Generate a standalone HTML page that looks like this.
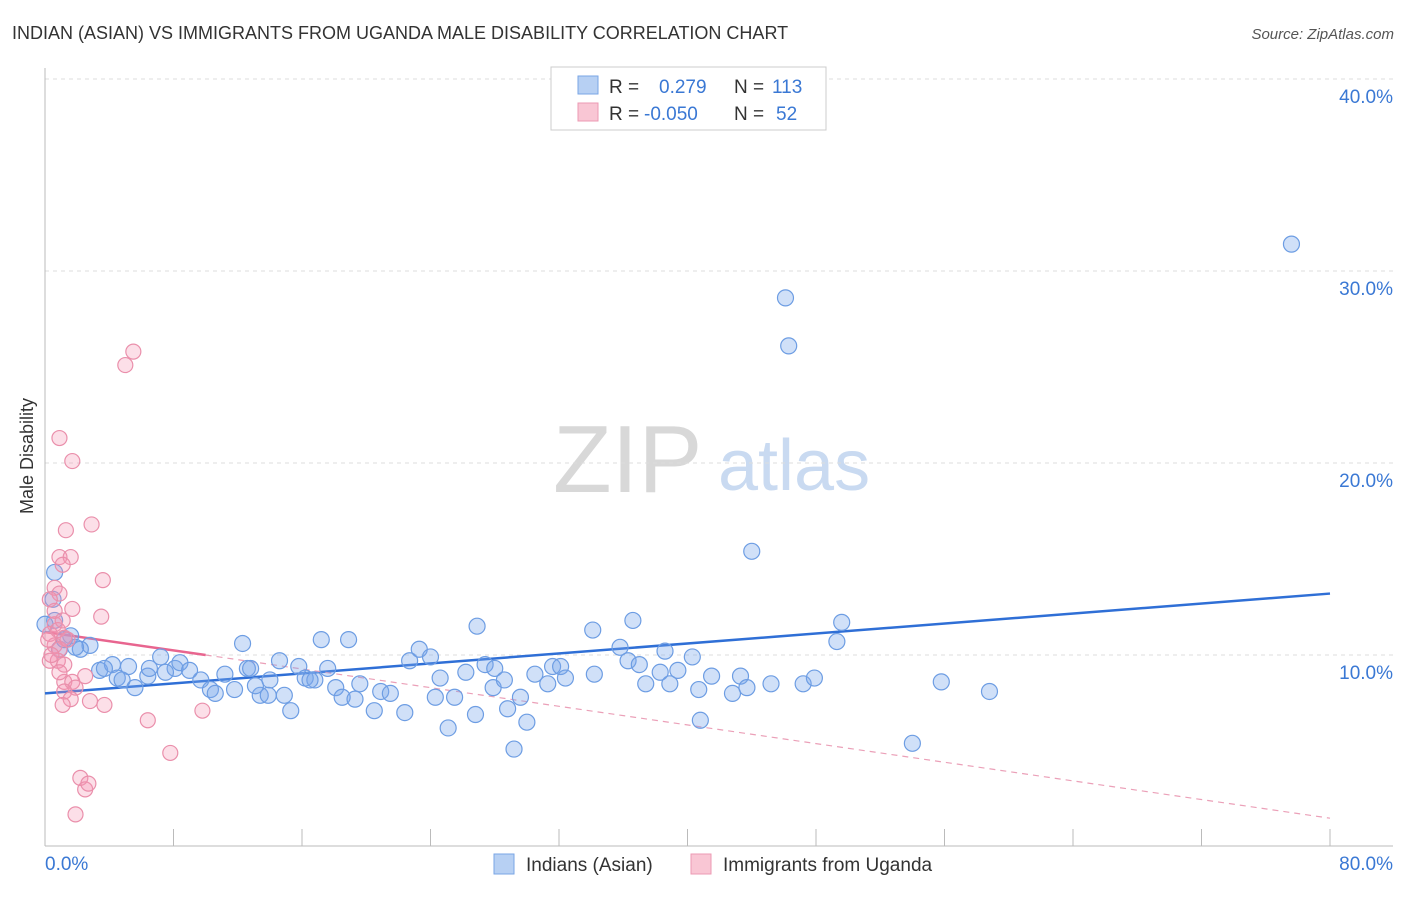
<!DOCTYPE html>
<html><head><meta charset="utf-8">
<style>
body{margin:0;background:#fff;font-family:"Liberation Sans",sans-serif;}
svg text{font-family:"Liberation Sans",sans-serif;}
</style></head>
<body>
<svg id="chart" width="1406" height="892" xmlns="http://www.w3.org/2000/svg">
<text x="12" y="39" font-size="18" fill="#333">INDIAN (ASIAN) VS IMMIGRANTS FROM UGANDA MALE DISABILITY CORRELATION CHART</text>
<text x="1394" y="39" font-size="15" fill="#555" text-anchor="end" font-style="italic">Source: ZipAtlas.com</text>
<g>
<text x="553" y="492" font-size="96" fill="#d8d8d8" font-family="Liberation Serif,serif">ZIP</text>
<text x="718" y="490" font-size="72" fill="#c9daf1">atlas</text>
</g>
<g id="grid"></g>
<g id="axes"></g>
<g id="trend"></g>
<g id="points"></g>
<text transform="translate(33,456) rotate(-90)" font-size="18" fill="#333" text-anchor="middle">Male Disability</text>
<g>
<rect x="551" y="67" width="275" height="63" fill="#fff" stroke="#ccc"/>
<rect x="578" y="76" width="20" height="18" fill="#b7d0f3" stroke="#7aa6e6"/>
<rect x="578" y="103" width="20" height="18" fill="#f9c6d4" stroke="#ec9ab3"/>
<text x="609" y="93" font-size="19" fill="#333">R =</text>
<text x="659" y="93" font-size="19" fill="#3a78d4">0.279</text>
<text x="734" y="93" font-size="19" fill="#333">N =</text>
<text x="772" y="93" font-size="19" fill="#3a78d4">113</text>
<text x="609" y="120" font-size="19" fill="#333">R =</text>
<text x="644" y="120" font-size="19" fill="#3a78d4">-0.050</text>
<text x="734" y="120" font-size="19" fill="#333">N =</text>
<text x="776" y="120" font-size="19" fill="#3a78d4">52</text>
</g>
<g>
<rect x="494" y="854" width="20" height="20" fill="#b7d0f3" stroke="#7aa6e6"/>
<text x="526" y="871" font-size="19" fill="#333">Indians (Asian)</text>
<rect x="691" y="854" width="20" height="20" fill="#f9c6d4" stroke="#ec9ab3"/>
<text x="723" y="871" font-size="19" fill="#333">Immigrants from Uganda</text>
</g>
</svg>
<script>
const yTicks=[10,20,30,40];
const yTickLabels=["10.0%","20.0%","30.0%","40.0%"];
const xTickVals=[0,8,16,24,32,40,48,56,64,72,80];
const xEndLabels=["0.0%","80.0%"];
const blueX=[77.6,46.1,46.3,44.0,49.6,49.3,36.6,34.1,26.9,17.2,18.9,12.3,2.8,0.6,0.6,0.5,1.6,2.2,3.4,4.2,5.2,6.4,7.2,8.1,8.4,9.7,10.3,11.2,11.8,12.6,13.4,14.0,14.6,15.3,15.8,16.2,16.8,17.6,18.1,18.5,19.3,19.6,20.5,20.9,21.5,22.4,22.7,23.3,24.0,24.3,24.6,25.1,25.5,26.2,26.8,27.4,28.0,27.9,28.6,28.8,29.2,29.6,30.0,30.5,31.3,31.6,32.1,32.4,34.2,35.8,36.3,37.0,37.4,38.3,38.6,38.9,39.4,40.3,40.7,40.8,41.5,42.8,43.3,43.7,45.2,47.2,47.9,54.0,55.8,58.8,6.5,3.7,4.5,4.8,5.6,7.5,9.0,10.6,12.8,13.1,13.9,14.9,16.5,0.9,1.2,1.9,0.0];
const blueY=[31.4,28.6,26.1,15.4,11.7,10.7,11.8,11.3,11.5,10.8,10.8,10.6,10.5,11.8,14.3,12.9,11.0,10.3,9.2,9.5,9.4,8.9,9.9,9.3,9.6,8.7,8.2,9.0,8.2,9.3,7.9,8.7,9.7,7.1,9.4,8.8,8.7,9.3,8.3,7.8,7.7,8.5,7.1,8.1,8.0,7.0,9.7,10.3,9.9,7.8,8.8,6.2,7.8,9.1,6.9,9.5,9.3,8.3,8.7,7.2,5.1,7.8,6.5,9.0,8.5,9.4,9.4,8.8,9.0,10.4,9.7,9.5,8.5,9.1,10.2,8.5,9.2,9.9,8.2,6.6,8.9,8.0,8.9,8.3,8.5,8.5,8.8,5.4,8.6,8.1,9.3,9.3,8.8,8.7,8.3,9.1,9.2,8.0,9.3,8.4,7.9,7.9,8.7,10.3,10.8,10.4,11.6];
const pinkX=[5.5,5.0,0.9,1.7,2.9,1.3,0.9,1.6,1.1,3.6,0.6,0.9,1.7,3.5,0.6,0.3,0.8,1.2,0.6,0.9,0.3,0.8,1.2,2.5,1.2,1.7,1.9,1.2,1.6,1.1,2.8,3.7,6.4,9.8,7.8,2.2,2.5,2.7,1.9,0.6,0.3,1.1,1.4,0.9,0.4,0.2];
const pinkY=[25.8,25.1,21.3,20.1,16.8,16.5,15.1,15.1,14.7,13.9,13.5,13.2,12.4,12.0,11.6,11.1,11.3,10.9,10.5,10.3,9.7,9.7,9.5,8.9,8.6,8.6,8.3,8.1,7.7,7.4,7.6,7.4,6.6,7.1,4.9,3.6,3.0,3.3,1.7,12.3,12.9,11.8,10.8,9.1,10.0,10.8];
const blueTrend=[[0,8.0],[80,13.2]];
const pinkTrendSolid=[[0,11.2],[10,10.0]];
const pinkTrendDash=[[10,10.0],[80,1.5]];

const NS="http://www.w3.org/2000/svg";
const xs=v=>45+v*1285/80;
const ys=v=>847-v*19.2;
function mk(tag,attrs,parent){const e=document.createElementNS(NS,tag);for(const k in attrs)e.setAttribute(k,attrs[k]);parent.appendChild(e);return e;}
const grid=document.getElementById('grid'),axes=document.getElementById('axes'),trend=document.getElementById('trend'),pts=document.getElementById('points');
yTicks.forEach((t,i)=>{
 const l=mk('line',{x1:45,x2:1393,y1:ys(t),y2:ys(t),stroke:'#ddd','stroke-dasharray':'4,4'},grid);
 
 
 const tx=mk('text',{x:1393,y:ys(t)+24,'font-size':19,fill:'#3a78d4','text-anchor':'end'},axes);
 tx.textContent=yTickLabels[i];
 
 
});
const ax=mk('line',{x1:45,x2:1393,y1:846,y2:846,stroke:'#bbb'},axes);


const ay=mk('line',{x1:45,x2:45,y1:68,y2:846,stroke:'#bbb'},axes);


xTickVals.forEach(t=>{
 const l=mk('line',{x1:xs(t),x2:xs(t),y1:829,y2:846,stroke:'#bbb'},axes);
 
 
});
const xl0=mk('text',{x:45,y:870,'font-size':19,fill:'#3a78d4'},axes);xl0.textContent=xEndLabels[0];


const xl1=mk('text',{x:1393,y:870,'font-size':19,fill:'#3a78d4','text-anchor':'end'},axes);xl1.textContent=xEndLabels[1];



blueX.forEach((x,i)=>{
 const c=mk('circle',{cx:xs(x),cy:ys(blueY[i]),r:8,fill:'rgba(120,165,235,0.35)',stroke:'#6d9de3','stroke-width':1.2},pts);
 
 
});
pinkX.forEach((x,i)=>{
 const c=mk('circle',{cx:xs(x),cy:ys(pinkY[i]),r:7.5,fill:'rgba(245,150,180,0.3)',stroke:'#ea8fab','stroke-width':1.2},pts);
 
 
});
const bt=mk('line',{x1:xs(blueTrend[0][0]),y1:ys(blueTrend[0][1]),x2:xs(blueTrend[1][0]),y2:ys(blueTrend[1][1]),stroke:'#2f6fd6','stroke-width':2.5},trend);


const ps=mk('line',{x1:xs(pinkTrendSolid[0][0]),y1:ys(pinkTrendSolid[0][1]),x2:xs(pinkTrendSolid[1][0]),y2:ys(pinkTrendSolid[1][1]),stroke:'#e8658f','stroke-width':2.5},trend);


const pd=mk('line',{x1:xs(pinkTrendDash[0][0]),y1:ys(pinkTrendDash[0][1]),x2:xs(pinkTrendDash[1][0]),y2:ys(pinkTrendDash[1][1]),stroke:'#eba0b8','stroke-width':1.2,'stroke-dasharray':'6,5'},trend);


</script>
</body></html>
